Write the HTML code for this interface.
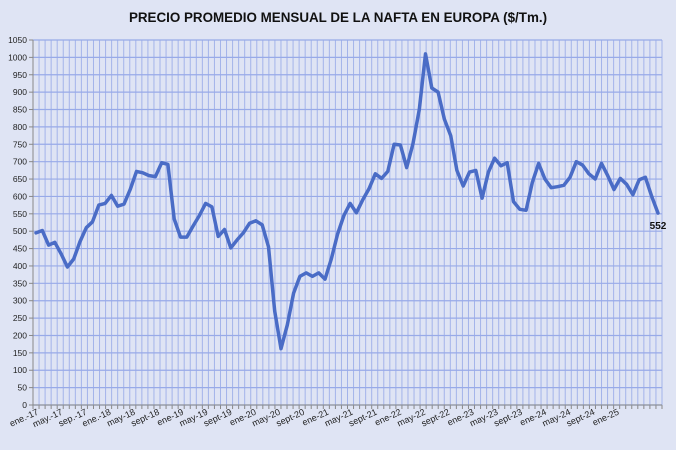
<!DOCTYPE html>
<html><head><meta charset="utf-8"><style>
html,body{margin:0;padding:0;background:#dfe4f4;}
svg{display:block;font-family:"Liberation Sans",sans-serif;}
</style></head><body>
<svg id="s" width="676" height="450" viewBox="0 0 676 450" xmlns="http://www.w3.org/2000/svg">
<rect width="676" height="450" fill="#dfe4f4"/>
<text x="338" y="22" text-anchor="middle" font-size="13.4" font-weight="bold" fill="#111">PRECIO PROMEDIO MENSUAL DE LA NAFTA EN EUROPA ($/Tm.)</text>
<g id="g"></g>
</svg>
<script>
var g=document.getElementById('g'),h='';
var X0=33,X1=662,Y0=405,Y1=40,N=104,w=(X1-X0)/N;
function y(v){return Y0-(v/1050)*(Y0-Y1);}
for(var i=0;i<=N;i++){var x=X0+i*w;h+='<line x1="'+x+'" y1="'+Y1+'" x2="'+x+'" y2="'+Y0+'" stroke="#a3b3ea" stroke-width="1"/>';h+='<line x1="'+x+'" y1="'+Y0+'" x2="'+x+'" y2="'+(Y0+4)+'" stroke="#888" stroke-width="1"/>';}
for(var v=0;v<=1050;v+=50){var yy=y(v);h+='<line x1="'+X0+'" y1="'+yy+'" x2="'+X1+'" y2="'+yy+'" stroke="#98aae8" stroke-width="1.2"/>';h+='<line x1="'+(X0-4)+'" y1="'+yy+'" x2="'+X0+'" y2="'+yy+'" stroke="#888"/>';h+='<text x="'+(X0-6)+'" y="'+(yy+3)+'" text-anchor="end" font-size="8.5" fill="#222">'+v+'</text>';}
h+='<line x1="'+X0+'" y1="'+Y1+'" x2="'+X0+'" y2="'+Y0+'" stroke="#888"/><line x1="'+X0+'" y1="'+Y0+'" x2="'+X1+'" y2="'+Y0+'" stroke="#888"/>';
var labs=['ene.-17','may.-17','sep.-17','ene.-18','may-18','sept-18','ene-19','may-19','sept-19','ene-20','may-20','sept-20','ene-21','may-21','sept-21','ene-22','may-22','sept-22','ene-23','may-23','sept-23','ene-24','may-24','sept-24','ene-25'];
for(var k=0;k<labs.length;k++){var x=X0+(k*4+0.5)*w+3;h+='<text transform="translate('+x+',414) rotate(-25)" text-anchor="end" font-size="9" fill="#222">'+labs[k]+'</text>';}
var d=[495,502,460,468,435,397,420,470,510,527,575,580,
603,572,578,620,672,668,660,657,697,692,535,483,
483,515,545,580,570,485,505,452,475,495,523,530,
518,455,270,162,230,322,370,380,370,380,362,420,
492,545,580,553,590,622,665,652,672,750,748,683,
752,850,1010,912,900,822,775,675,630,670,675,595,
670,710,688,697,585,563,560,640,695,650,625,628,
632,655,700,690,665,650,695,660,620,652,635,605,
648,655,600,552];
var p='';for(var i=0;i<d.length;i++){var x=36+i*(658-36)/(d.length-1);p+=(i?'L':'M')+x.toFixed(1)+','+y(d[i]).toFixed(1);}
h+='<path d="'+p+'" fill="none" stroke="#4a6cc6" stroke-width="3.5" stroke-linejoin="round" stroke-linecap="round"/>';
h+='<text x="658" y="229" text-anchor="middle" font-size="10" font-weight="bold" fill="#111">552</text>';
g.innerHTML=h;
</script>
</body></html>
